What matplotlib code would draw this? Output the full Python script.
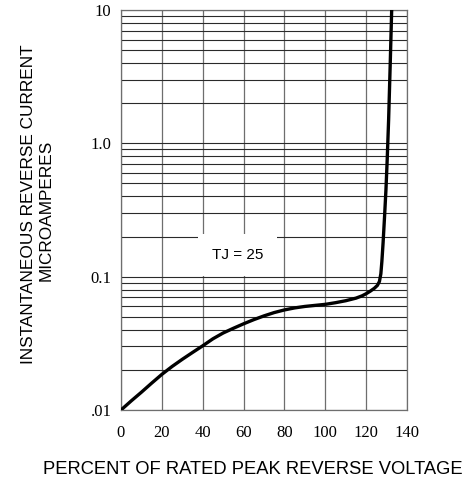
import numpy as np
import matplotlib.pyplot as plt
from matplotlib.ticker import FixedLocator, LogLocator, NullFormatter

# percent of rated peak reverse voltage vs reverse current (uA)
voltage_pct = [0, 5, 10, 15, 20, 25, 30, 35, 40, 45, 50, 55, 60, 65, 70, 75, 80, 85,
               90, 95, 100, 105, 110, 115, 118, 120, 122, 124, 125.5, 126.5, 127.2,
               127.7, 128.3, 129, 129.7, 130.3, 131, 131.8, 132.5]
current_ua = [0.0100, 0.0117, 0.0136, 0.0159, 0.0185, 0.0212, 0.0240, 0.0270, 0.0303,
              0.0342, 0.0378, 0.0410, 0.0443, 0.0476, 0.0508, 0.0538, 0.0563, 0.0583,
              0.0598, 0.0609, 0.0620, 0.0638, 0.0660, 0.0690, 0.0718, 0.0745, 0.0778,
              0.0818, 0.0860, 0.0920, 0.105, 0.130, 0.180, 0.280, 0.450, 0.750, 1.50,
              4.00, 10.0]

x_ticks = [0, 20, 40, 60, 80, 100, 120, 140]
y_ticks = [0.01, 0.1, 1.0, 10]
y_tick_labels = [".01", "0.1", "1.0", "10"]

fig = plt.figure(figsize=(4.77, 4.88), dpi=100)
ax = fig.add_axes([121 / 477, 78 / 488, 286 / 477, 400 / 488])

ax.set_yscale("log")
ax.set_xlim(0, 140)
ax.set_ylim(0.01, 10)

# grid: verticals every 20, horizontals on every log sub-division
ax.xaxis.set_major_locator(FixedLocator(x_ticks))
ax.yaxis.set_major_locator(FixedLocator(y_ticks))
ax.yaxis.set_minor_locator(LogLocator(base=10, subs=np.arange(2, 10)))
ax.yaxis.set_minor_formatter(NullFormatter())
ax.set_yticklabels(y_tick_labels)
ax.grid(True, axis="x", which="major", color="#6e6e6e", lw=0.9)
ax.grid(True, axis="y", which="both", color="#2a2a2a", lw=0.8)
ax.set_axisbelow(True)

for s in ax.spines.values():
    s.set_color("#6e6e6e")
    s.set_linewidth(0.9)

ax.tick_params(which="both", length=0, labelsize=12)
ax.tick_params(axis="x", pad=11)
ax.tick_params(axis="y", pad=7)
for lab in ax.get_xticklabels() + ax.get_yticklabels():
    lab.set_fontfamily("Liberation Serif")

ax.plot(voltage_pct, current_ua, color="black", lw=2.4, solid_capstyle="round",
        solid_joinstyle="round", zorder=3)

ax.text(57, 0.145, "TJ = 25", fontsize=11, family="Liberation Sans", ha="center",
        va="center", bbox=dict(boxstyle="square,pad=0.9", fc="white", ec="none"), zorder=2)

fig.text(253 / 477, 1 - 469 / 488, "PERCENT OF RATED PEAK REVERSE VOLTAGE",
         ha="center", va="center", fontsize=13.2, family="Liberation Sans")
fig.text(29 / 477, 1 - 204 / 488, "INSTANTANEOUS REVERSE CURRENT", rotation=90,
         ha="center", va="center", fontsize=12.4, family="Liberation Sans")
fig.text(46 / 477, 1 - 210 / 488, "MICROAMPERES", rotation=90,
         ha="center", va="center", fontsize=12.4, family="Liberation Sans")

fig.savefig("out.png", dpi=100)
